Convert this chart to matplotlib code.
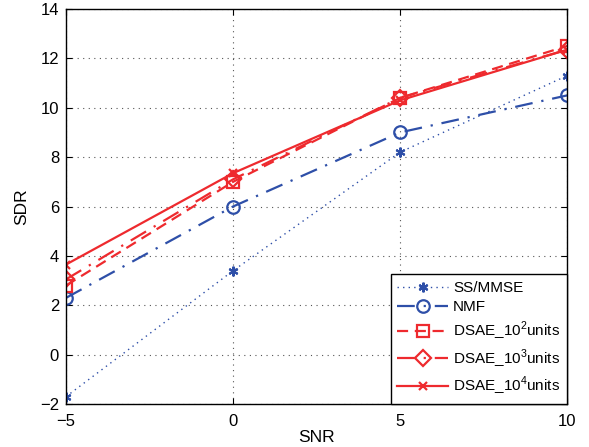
import matplotlib
matplotlib.use("Agg")
import matplotlib.pyplot as plt

plt.rcParams['font.family'] = ['Liberation Sans', 'DejaVu Sans']
plt.rcParams['mathtext.fontset'] = 'custom'
plt.rcParams['mathtext.rm'] = 'Liberation Sans'

snr = [-5, 0, 5, 10]
ss_mmse = [-1.7, 3.4, 8.2, 11.3]
nmf = [2.3, 6.0, 9.0, 10.5]
dsae2 = [2.8, 7.0, 10.4, 12.5]
dsae3 = [3.05, 7.1, 10.4, 12.35]
dsae4 = [3.65, 7.35, 10.3, 12.35]

blue = '#2E4FA8'
red = '#EE2A2E'

fig = plt.figure(figsize=(5.89, 4.47), dpi=100)
ax = fig.add_axes([0.112, 0.096, 0.851, 0.884])

ax.plot(snr, ss_mmse, color=blue, linestyle=(0, (1, 3)), linewidth=1.0,
        marker=(6, 2, 0), markersize=7, markeredgewidth=1.5, label='SS/MMSE')
ax.plot(snr, nmf, color=blue, linestyle=(0, (8, 4, 1, 4)), linewidth=1.6,
        marker='o', markersize=9, markerfacecolor='none', markeredgewidth=1.6, label='NMF')
ax.plot(snr, dsae2, color=red, linestyle=(0, (5, 3)), linewidth=1.6,
        marker='s', markersize=8, markerfacecolor='none', markeredgewidth=1.6,
        label='DSAE_10$^2$units')
ax.plot(snr, dsae3, color=red, linestyle=(0, (8, 4, 1, 4)), linewidth=1.6,
        marker='D', markersize=8, markerfacecolor='none', markeredgewidth=1.6,
        label='DSAE_10$^3$units')
ax.plot(snr, dsae4, color=red, linestyle='-', linewidth=1.6,
        marker='x', markersize=6, markeredgewidth=1.6,
        label='DSAE_10$^4$units')

ax.set_xlim(-5, 10)
ax.set_ylim(-2, 14)
ax.set_xticks([-5, 0, 5, 10])
ax.set_yticks(range(-2, 15, 2))
ax.tick_params(direction='in', labelsize=12, length=4, top=True, right=True)
ax.tick_params(axis='x', pad=7)
ax.tick_params(axis='y', pad=5)
ax.grid(True, linestyle=(0, (1, 4)), color='#555555', linewidth=0.8)
ax.set_xlabel('SNR', fontsize=12.5, labelpad=1)
ax.set_ylabel('SDR', fontsize=12.5, labelpad=8)
for s in ax.spines.values():
    s.set_linewidth(1.0)

leg = ax.legend(loc='lower right', fontsize=11, fancybox=False, framealpha=1,
                edgecolor='black', borderaxespad=0, handlelength=3.3,
                labelspacing=0.35, borderpad=0.45, handletextpad=0.35)
leg.get_frame().set_linewidth(1.0)

fig.savefig('out.png', dpi=100)
